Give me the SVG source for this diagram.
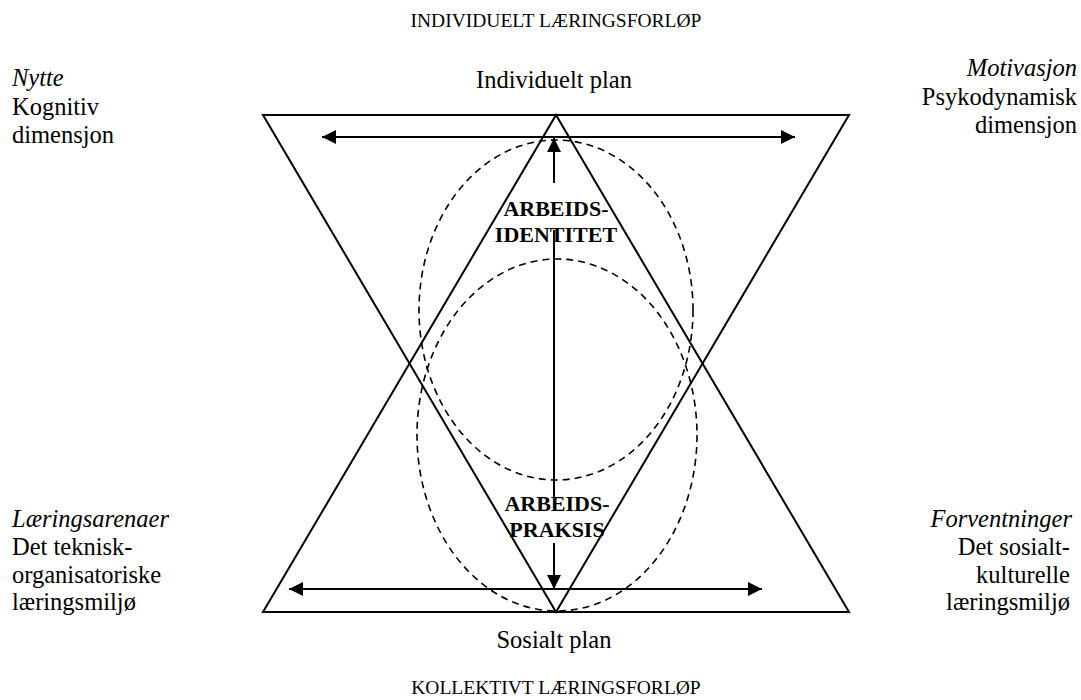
<svg xmlns="http://www.w3.org/2000/svg" width="1081" height="700" viewBox="0 0 1081 700" font-family="'Liberation Serif', 'Times New Roman', 'DejaVu Serif', serif">
<style>
text{font-family:'Liberation Serif','Times New Roman','DejaVu Serif',serif;fill:#000}
.t{font-size:19.5px}
.l{font-size:24.5px}
.b{font-size:22px;font-weight:bold}
.it{font-style:italic}
.s{fill:none;stroke:#000;stroke-width:2}
.d{fill:none;stroke:#000;stroke-width:1.6;stroke-dasharray:7,5}
</style>
<defs>
<marker id="ah" viewBox="0 0 10 10" refX="10" refY="5" markerWidth="15" markerHeight="14" markerUnits="userSpaceOnUse" orient="auto-start-reverse">
<path d="M0,0 L10,5 L0,10 Z" fill="#000"/>
</marker>
</defs>
<g id="titles">
<text class="t" x="556" y="27" text-anchor="middle">INDIVIDUELT LÆRINGSFORLØP</text>
<text class="t" x="556" y="694" text-anchor="middle">KOLLEKTIVT LÆRINGSFORLØP</text>
<text class="l" x="554" y="88" text-anchor="middle">Individuelt plan</text>
<text class="l" x="554" y="648" text-anchor="middle">Sosialt plan</text>
</g>
<g id="triangle-down"><polygon class="s" points="263,115 849,115 556,612"/></g>
<g id="triangle-up"><polygon class="s" points="556,115 849,612 263,612"/></g>
<g id="ellipse-upper"><ellipse class="d" cx="556" cy="310" rx="137" ry="170"/></g>
<g id="ellipse-lower"><ellipse class="d" cx="557" cy="435" rx="140" ry="176"/></g>
<g id="connectors">
<line class="s" x1="322" y1="137" x2="795" y2="137" marker-start="url(#ah)" marker-end="url(#ah)"/>
<line class="s" x1="289" y1="589" x2="762" y2="589" marker-start="url(#ah)" marker-end="url(#ah)"/>
<line class="s" x1="554" y1="183" x2="554" y2="138" marker-end="url(#ah)"/>
<line class="s" x1="554" y1="230" x2="554" y2="497"/>
<line class="s" x1="554" y1="543" x2="554" y2="589" marker-end="url(#ah)"/>
</g>
<g id="arbeidsidentitet">
<text class="b" x="556" y="216" text-anchor="middle">ARBEIDS-</text>
<text class="b" x="556" y="242" text-anchor="middle">IDENTITET</text>
</g>
<g id="arbeidspraksis">
<text class="b" x="557" y="511" text-anchor="middle">ARBEIDS-</text>
<text class="b" x="557" y="537" text-anchor="middle">PRAKSIS</text>
</g>
<g id="nytte">
<text class="l it" x="12" y="86">Nytte</text>
<text class="l" x="12" y="115">Kognitiv</text>
<text class="l" x="12" y="143">dimensjon</text>
</g>
<g id="motivasjon" text-anchor="end">
<text class="l it" x="1077" y="76">Motivasjon</text>
<text class="l" x="1077" y="105">Psykodynamisk</text>
<text class="l" x="1077" y="133">dimensjon</text>
</g>
<g id="laeringsarenaer">
<text class="l it" x="12" y="527">Læringsarenaer</text>
<text class="l" x="12" y="555">Det teknisk-</text>
<text class="l" x="12" y="583">organisatoriske</text>
<text class="l" x="12" y="610">læringsmiljø</text>
</g>
<g id="forventninger" text-anchor="end">
<text class="l it" x="1072" y="527">Forventninger</text>
<text class="l" x="1070" y="555">Det sosialt-</text>
<text class="l" x="1070" y="583">kulturelle</text>
<text class="l" x="1070" y="610">læringsmiljø</text>
</g>
</svg>
